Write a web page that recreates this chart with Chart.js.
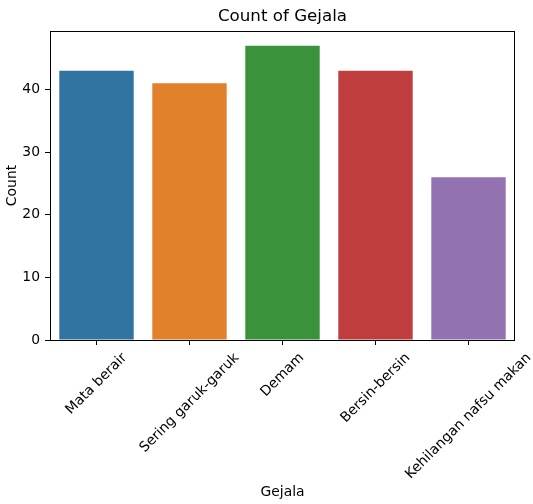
<!DOCTYPE html>
<html>
<head>
<meta charset="utf-8">
<script src="https://cdn.jsdelivr.net/npm/chart.js@4"></script>
<style>
html,body{margin:0;padding:0;background:#fff;}
#wrap{width:533px;height:504px;}
</style>
</head>
<body>
<div id="wrap"><canvas id="c" width="533" height="504"></canvas></div>
<script>
const categories = ["Mata berair", "Sering garuk-garuk", "Demam", "Bersin-bersin", "Kehilangan nafsu makan"];
const counts = [43, 41, 47, 43, 26];
const barColors = ["#3274a1", "#e1812c", "#3a923a", "#c03d3e", "#9372b2"];
const yTicks = [0, 10, 20, 30, 40];
const titleText = "Count of Gejala";
const xTitle = "Gejala";
const yTitle = "Count";

const FONT = "'DejaVu Sans', sans-serif";

const textPlugin = {
  id: 'textPlugin',
  afterDraw(chart) {
    const ctx = chart.ctx;
    const a = chart.chartArea;
    ctx.save();
    // frame
    ctx.strokeStyle = '#000';
    ctx.lineWidth = 1;
    ctx.strokeRect(Math.round(a.left) + 0.5, Math.round(a.top) + 0.5,
                   Math.round(a.right - a.left) - 1, Math.round(a.bottom - a.top));
    ctx.fillStyle = '#000';
    // title
    ctx.font = "16.7px " + FONT;
    ctx.textAlign = 'center';
    ctx.textBaseline = 'middle';
    ctx.fillText(titleText, (a.left + a.right) / 2, 17);
    // x title
    ctx.font = "13.9px " + FONT;
    ctx.fillText(xTitle, (a.left + a.right) / 2, 492);
    // y title
    ctx.save();
    ctx.translate(12, (a.top + a.bottom) / 2);
    ctx.rotate(-Math.PI / 2);
    ctx.fillText(yTitle, 0, 0);
    ctx.restore();
    // x tick labels, rotated 45deg, centered on tick
    const xs = chart.scales.x;
    const fs = 13.9;
    ctx.font = fs + "px " + FONT;
    const topY = a.bottom + 10;
    categories.forEach((lab, i) => {
      const x = xs.getPixelForValue(i);
      const w = ctx.measureText(lab).width;
      const h = fs * 1.15;
      const side = (w + h) * Math.SQRT1_2;
      ctx.save();
      ctx.translate(x, topY + side / 2);
      ctx.rotate(-Math.PI / 4);
      ctx.textAlign = 'center';
      ctx.textBaseline = 'middle';
      ctx.fillText(lab, 0, 0);
      ctx.restore();
    });
    ctx.restore();
  }
};

new Chart(document.getElementById('c'), {
  type: 'bar',
  data: {
    labels: categories,
    datasets: [{
      data: counts,
      backgroundColor: barColors,
      borderWidth: 0,
      barPercentage: 0.8,
      categoryPercentage: 1.0
    }]
  },
  options: {
    responsive: false,
    animation: false,
    devicePixelRatio: 1,
    layout: { padding: { top: 31, right: 18, left: 0, bottom: 0 } },
    plugins: { legend: { display: false }, tooltip: { enabled: false }, title: { display: false } },
    scales: {
      x: {
        type: 'category',
        offset: true,
        grid: { display: true, offset: false, drawOnChartArea: false, drawTicks: true, tickLength: 5, tickColor: '#000', tickWidth: 1 },
        border: { display: false },
        ticks: { display: false },
        afterFit(scale) { scale.height = 164; }
      },
      y: {
        min: 0,
        max: 49.35,
        afterBuildTicks(scale) { scale.ticks = yTicks.map(v => ({ value: v })); },
        grid: { display: true, drawOnChartArea: false, drawTicks: true, tickLength: 5, tickColor: '#000', tickWidth: 1 },
        border: { display: false },
        ticks: { color: '#000', padding: 5, font: { family: FONT, size: 13.9 } },
        afterFit(scale) { scale.width = 50; }
      }
    }
  },
  plugins: [textPlugin]
});
</script>
</body>
</html>
